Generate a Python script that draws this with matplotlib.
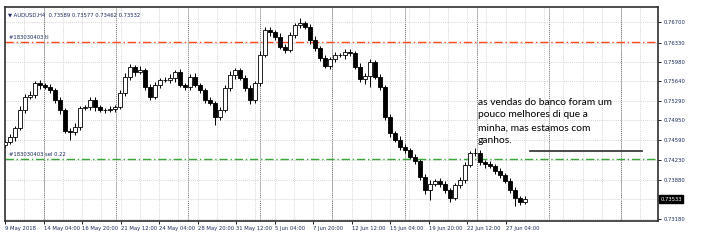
import matplotlib.pyplot as plt
import numpy as np

# AUDUSD H4 closes (one value per ~2 bars)
closes = [0.74556, 0.74645, 0.74806, 0.75127, 0.75360, 0.75396, 0.75610, 0.75574, 0.75538, 0.75485,
          0.75306, 0.75127, 0.74752, 0.74734, 0.74824, 0.75163, 0.75181, 0.75306, 0.75181, 0.75127,
          0.75127, 0.75145, 0.75181, 0.75431, 0.75717, 0.75896, 0.75807, 0.75842, 0.75538, 0.75360,
          0.75574, 0.75664, 0.75664, 0.75699, 0.75807, 0.75574, 0.75538, 0.75717, 0.75574, 0.75485,
          0.75306, 0.75253, 0.75002, 0.75127, 0.75521, 0.75753, 0.75842, 0.75699, 0.75521, 0.75306,
          0.75610, 0.76110, 0.76557, 0.76521, 0.76432, 0.76253, 0.76200, 0.76468, 0.76646, 0.76682,
          0.76611, 0.76378, 0.76235, 0.76057, 0.75914, 0.76039, 0.76110, 0.76110, 0.76164, 0.76146,
          0.75896, 0.75681, 0.75735, 0.75985, 0.75717, 0.75538, 0.75002, 0.74716, 0.74591, 0.74466,
          0.74413, 0.74288, 0.74216, 0.73930, 0.73698, 0.73805, 0.73859, 0.73805, 0.73698, 0.73555,
          0.73787, 0.73877, 0.74145, 0.74359, 0.74359, 0.74198, 0.74162, 0.74127, 0.74037, 0.73966,
          0.73859, 0.73698, 0.73555, 0.73483, 0.73537]
first_open = 0.74500
# wick lengths above / below the body, in pips (0.0001)
upper_wick = [4, 6, 3, 8, 5, 7, 4, 6, 3, 5, 4, 6, 3, 5, 7, 4, 3, 6, 5, 4,
              3, 5, 4, 6, 8, 5, 4, 7, 3, 5, 6, 4, 5, 7, 3, 6, 4, 5, 8, 4,
              3, 5, 4, 6, 5, 7, 4, 3, 6, 5, 4, 8, 5, 6, 4, 7, 5, 6, 3, 9,
              4, 5, 7, 3, 6, 4, 5, 4, 6, 5, 3, 7, 5, 6, 4, 5, 3, 6, 4, 7,
              5, 4, 6, 3, 5, 7, 4, 5, 6, 4, 3, 6, 5, 4, 9, 5, 4, 6, 3, 5,
              4, 6, 5, 3, 5]
lower_wick = [5, 4, 7, 3, 6, 4, 5, 8, 4, 6, 5, 7, 4, 14, 5, 6, 4, 5, 7, 4,
              6, 3, 5, 4, 6, 5, 7, 4, 6, 5, 3, 6, 4, 5, 7, 4, 6, 5, 4, 6,
              5, 4, 15, 6, 4, 5, 7, 4, 6, 8, 5, 6, 4, 7, 5, 3, 6, 4, 5, 6,
              4, 7, 5, 6, 4, 5, 6, 4, 7, 5, 4, 6, 8, 20, 4, 6, 5, 7, 4, 6,
              5, 4, 6, 5, 7, 18, 4, 6, 5, 7, 4, 6, 5, 4, 6, 5, 7, 4, 6, 5,
              4, 6, 15, 5, 4]

date_labels = ["9 May 2018", "14 May 04:00", "16 May 20:00", "21 May 12:00", "24 May 04:00",
               "28 May 20:00", "31 May 12:00", "5 Jun 04:00", "7 Jun 20:00", "12 Jun 12:00",
               "15 Jun 04:00", "19 Jun 20:00", "22 Jun 12:00", "27 Jun 04:00"]
price_ticks = [0.76700, 0.76330, 0.75980, 0.75640, 0.75290, 0.74950, 0.74590, 0.74230, 0.73880, 0.73180]
last_price = 0.73533
tp_level = 0.76343
sell_level = 0.74252
user_line_level = 0.74395
user_line_x = [105, 127.4]

header = "AUDUSD,H4  0.73589 0.73577 0.73462 0.73532"
note = "as vendas do banco foram um\npouco melhores di que a\nminha, mas estamos com\nganhos."

LABEL_STEP = 7.7      # candles between date labels
WEEK_STEP = 14.44     # candles between week separators

fig = plt.figure(figsize=(7.05, 2.5), dpi=100)
ax = fig.add_axes([0.0064, 0.116, 0.9270, 0.856])

n = len(closes)
x = np.arange(n)
closes = np.array(closes)
opens = np.r_[first_open, closes[:-1]]
highs = np.maximum(opens, closes) + np.array(upper_wick) * 1e-4
lows = np.minimum(opens, closes) - np.array(lower_wick) * 1e-4
up = closes >= opens

# grid
for gx in np.arange(0, 131, LABEL_STEP / 2):
    ax.axvline(gx, color="#c8c8c8", lw=0.6, ls=(0, (1, 1.5)), zorder=0)
for gx in np.arange(LABEL_STEP, 131, WEEK_STEP):
    ax.axvline(gx, color="#707070", lw=0.7, ls=(0, (1, 1)), zorder=0)
for p in price_ticks:
    ax.axhline(p, color="#c8c8c8", lw=0.6, ls=(0, (1, 1.5)), zorder=0)
ax.axhline(last_price, color="#e8e8e8", lw=0.6, zorder=0)

# candles
ax.vlines(x, lows, highs, color="black", lw=0.7, zorder=2)
ax.bar(x[up], closes[up] - opens[up], bottom=opens[up], width=0.65,
       color="white", edgecolor="black", linewidth=0.6, zorder=3)
ax.bar(x[~up], opens[~up] - closes[~up], bottom=closes[~up], width=0.65,
       color="black", edgecolor="black", linewidth=0.6, zorder=3)

# order levels
ax.axhline(tp_level, color="#ff4a1c", lw=1.0, ls=(0, (6, 2, 1, 2)), zorder=2)
ax.axhline(sell_level, color="#3aa63a", lw=1.0, ls=(0, (6, 2, 1, 2)), zorder=2)
ax.plot(user_line_x, [user_line_level] * 2, color="#3c3c3c", lw=1.3, zorder=4)

ax.text(0.8, tp_level + 0.0003, "#183030403 tl", fontsize=3.8, color="#1a2a5a", va="bottom")
ax.text(0.8, sell_level + 0.0003, "#183030403 sel 0.22", fontsize=3.8, color="#1a2a5a", va="bottom")
ax.text(0.006, 0.975, "\u25bc " + header, transform=ax.transAxes, fontsize=3.8,
        color="#1a2a5a", va="top", ha="left")
ax.text(94.6, 0.7535, note, fontsize=7.4, family="Lato", color="black",
        va="top", ha="left", linespacing=1.55, zorder=5)

ax.set_xlim(-0.1, 130.6)
ax.set_ylim(0.73144, 0.76968)

ax.set_xticks(np.arange(len(date_labels)) * LABEL_STEP)
ax.set_xticklabels(date_labels, fontsize=3.8, color="#1a2a5a", ha="left")
ax.tick_params(axis="x", length=2.5, width=0.6, pad=1)

ax.yaxis.tick_right()
ax.set_yticks(price_ticks)
ax.set_yticklabels([f"{p:.5f}" for p in price_ticks], fontsize=3.8, color="#1a2a5a")
ax.tick_params(axis="y", length=2.5, width=0.6, pad=1.5)

ax.text(1.004, last_price, f"{last_price:.5f}", transform=ax.get_yaxis_transform(),
        fontsize=3.8, color="white", va="center", ha="left",
        bbox=dict(boxstyle="square,pad=0.25", fc="black", ec="black"))

for s in ax.spines.values():
    s.set_linewidth(1.2)
    s.set_color("#303030")

fig.savefig("out.png", dpi=100)
